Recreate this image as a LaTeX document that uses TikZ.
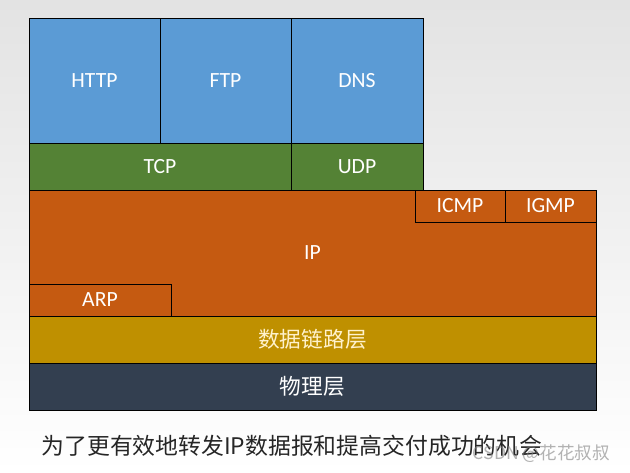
\documentclass[tikz,border=0pt]{standalone}
\usepackage{fontspec}
\setmainfont{Carlito}
\newfontfamily\cjk{Noto Sans CJK SC}
\definecolor{appblue}{HTML}{5B9BD5}
\definecolor{tpgreen}{HTML}{548235}
\definecolor{iporange}{HTML}{C55A11}
\definecolor{linkgold}{HTML}{BF9000}
\definecolor{physdark}{HTML}{333F50}
\definecolor{linktext}{HTML}{FFF2CC}
\tikzset{
  layer/.style={draw=black, line width=0.8pt},
  lbl/.style={text=white, font=\fontsize{18.5}{20}\selectfont},
  cjklbl/.style={font=\cjk\fontsize{18.5}{20}\selectfont},
}
\begin{document}
\begin{tikzpicture}[x=0.03cm, y=-0.03cm]
        % background, pixel coordinates (630 x 473)
        \shade[top color=gray!22, bottom color=white] (0,0) rectangle (630,473);
        \useasboundingbox (0,0) rectangle (630,473);
        % application layer
        \draw[layer, fill=appblue] (29,18) rectangle (160,143) node[midway, lbl] (http) {HTTP};
        \draw[layer, fill=appblue] (160,18) rectangle (291,143) node[midway, lbl] (ftp) {FTP};
        \draw[layer, fill=appblue] (291,18) rectangle (423,143) node[midway, lbl] (dns) {DNS};
        % transport layer
        \draw[layer, fill=tpgreen] (29,143) rectangle (291,190) node[midway, lbl] (tcp) {TCP};
        \draw[layer, fill=tpgreen] (291,143) rectangle (423,190) node[midway, lbl] (udp) {UDP};
        % network layer
        \draw[layer, fill=iporange] (29,190) rectangle (596,316) node[midway, lbl] (ip) {IP};
        \draw[layer, fill=iporange] (415,190) rectangle (505,222) node[midway, lbl] (icmp) {ICMP};
        \draw[layer, fill=iporange] (505,190) rectangle (596,222) node[midway, lbl] (igmp) {IGMP};
        \draw[layer, fill=iporange] (29,284) rectangle (171,316) node[midway, lbl] (arp) {ARP};
        % link and physical
        \draw[layer, fill=linkgold] (29,316) rectangle (596,363) node[midway, cjklbl, text=linktext] (link) {数据链路层};
        \draw[layer, fill=physdark] (29,363) rectangle (596,410) node[midway, cjklbl, text=white] (phys) {物理层};
        % caption
        \node[font=\cjk\fontsize{19.5}{22}\selectfont, text=black!85] (caption) at (292,446) {为了更有效地转发IP数据报和提高交付成功的机会};
        \node[font=\cjk\fontsize{15}{17}\selectfont, text=gray, opacity=0.6, anchor=east] (mark) at (614,454) {CSDN @花花叔叔};
\end{tikzpicture}
\end{document}
